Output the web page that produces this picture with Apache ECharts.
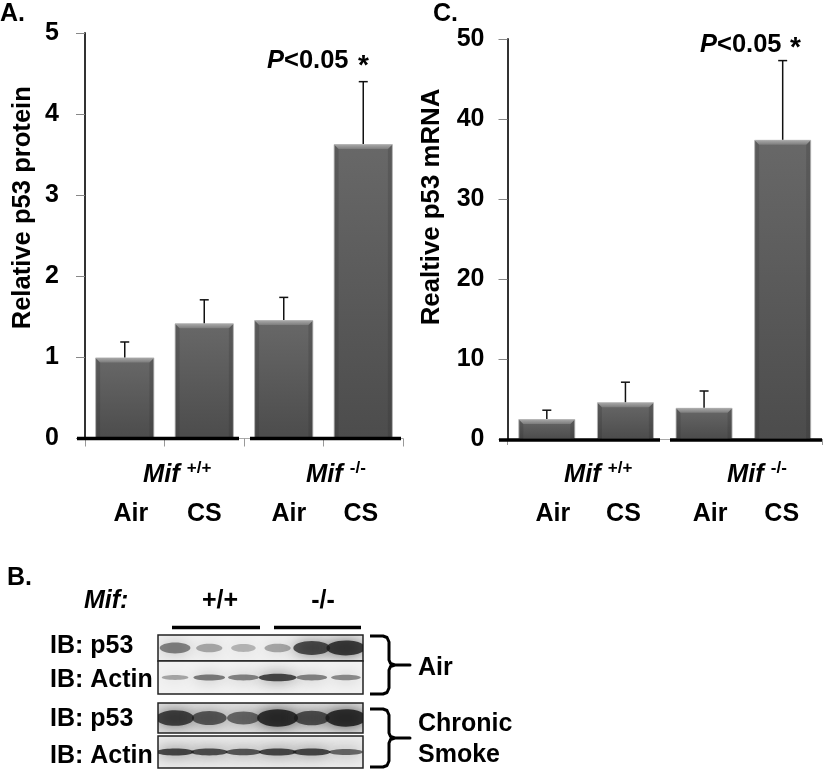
<!DOCTYPE html>
<html><head><meta charset="utf-8">
<style>html,body{margin:0;padding:0;background:#fff}#c{width:825px;height:770px}</style>
<script src="https://cdn.jsdelivr.net/npm/echarts@6/dist/echarts.min.js"></script>
</head><body><div id="c"></div>
<script>
const categories = ['Air', 'CS', 'Air', 'CS'];
const proteinMeans = [1.0, 1.42, 1.46, 3.63];
const proteinTops = [1.19, 1.71, 1.74, 4.4];
const mrnaMeans = [2.5, 4.6, 3.9, 37.4];
const mrnaTops = [3.6, 7.1, 6.0, 47.3];
const lanes = ['1', '2', '3', '4', '5', '6'];
const blotAirP53 = [0.5, 0.28, 0.2, 0.28, 0.8, 0.9];
const blotAirActin = [0.3, 0.55, 0.5, 0.85, 0.5, 0.45];
const blotSmokeP53 = [0.85, 0.7, 0.6, 1.0, 0.75, 1.0];
const blotSmokeActin = [0.85, 0.8, 0.75, 0.85, 0.85, 0.65];

const FONT = 'Liberation Sans';
const chart = echarts.init(document.getElementById('c'), null, {renderer: 'canvas'});

const labelOffsets = [[6, 0, 5, -2.5], [6, -2, 6, -1]];
function richFor(p) {
  const r = {};
  labelOffsets[p].forEach((o, i) => {
    r['a' + i] = {fontFamily: FONT, fontWeight: 'bold', fontSize: 25, color: '#000',
      padding: o >= 0 ? [0, 0, 0, 2 * o] : [0, -2 * o, 0, 0]};
  });
  return r;
}
function xAxisFor(g, p) {
  return {
    type: 'category', gridIndex: g, data: categories,
    axisLine: {lineStyle: {color: '#aaa', width: 1}},
    axisTick: p === 0
      ? {show: true, length: 8, lineStyle: {color: '#999', width: 1}}
      : {show: true, length: 6, interval: (i) => i === 0, lineStyle: {color: '#999', width: 1}},
    axisLabel: {margin: 63, interval: 0, rich: richFor(p),
      formatter: (v, i) => '{a' + i + '|' + v + '}'}
  };
}
function yAxisFor(g, max, step, name, gap, pad, size, margin) {
  return {
    type: 'value', gridIndex: g, min: 0, max: max, interval: step,
    name: name, nameLocation: 'middle', nameRotate: 90, nameGap: gap,
    nameTextStyle: {fontFamily: FONT, fontWeight: 'bold', fontSize: size, color: '#000', padding: [0, 0, 0, pad]},
    splitLine: {show: false},
    axisLine: {show: true, lineStyle: {color: '#333', width: 2}},
    axisTick: {show: true, length: 9, lineStyle: {color: '#888', width: 1}},
    axisLabel: {fontFamily: FONT, fontWeight: 'bold', fontSize: 25, color: '#000', margin: margin}
  };
}
function barSeries(g, values, widthPct) {
  return {
    type: 'bar', xAxisIndex: g, yAxisIndex: g, data: values, barWidth: widthPct, z: 2,
    itemStyle: {
      color: new echarts.graphic.LinearGradient(0, 0, 0, 1, [
        {offset: 0, color: '#686868'}, {offset: 1, color: '#4c4c4c'}]),
      borderColor: '#c4c4c4', borderWidth: 1
    }
  };
}
function bevelSeries(g, values, frac) {
  return {
    type: 'custom', xAxisIndex: g, yAxisIndex: g, z: 3, silent: true,
    data: values.map((v, i) => [i, v]),
    renderItem(params, api) {
      const p = api.coord([api.value(0), api.value(1)]);
      const base = api.coord([api.value(0), 0]);
      const w = api.size([1, 0])[0] * frac;
      const l = p[0] - w / 2 + 0.5, r = p[0] + w / 2 - 0.5, t = p[1] + 0.5, b = base[1];
      const d = 4.5;
      return {type: 'group', children: [
        {type: 'polygon', shape: {points: [[l, t], [l + d, t + d], [l + d, b], [l, b]]},
          style: {fill: 'rgba(40,40,40,0.2)'}},
        {type: 'polygon', shape: {points: [[r, t], [r - d, t + d], [r - d, b], [r, b]]},
          style: {fill: 'rgba(40,40,40,0.2)'}},
        {type: 'polygon', shape: {points: [[l, t], [r, t], [r - d, t + d], [l + d, t + d]]},
          style: {fill: new echarts.graphic.LinearGradient(0, 0, 0, 1, [
            {offset: 0, color: '#a8a8a8'}, {offset: 1, color: '#7c7c7c'}])}}
      ]};
    }
  };
}
function errorSeries(g, means, tops) {
  return {
    type: 'custom', xAxisIndex: g, yAxisIndex: g, z: 4, silent: true,
    data: means.map((v, i) => [i, v, tops[i]]),
    renderItem(params, api) {
      const a = api.coord([api.value(0), api.value(1)]);
      const c = api.coord([api.value(0), api.value(2)]);
      const st = {stroke: '#111', lineWidth: 1.5, fill: null};
      return {type: 'group', children: [
        {type: 'line', shape: {x1: a[0], y1: a[1], x2: a[0], y2: c[1]}, style: st},
        {type: 'line', shape: {x1: a[0] - 4.5, y1: c[1], x2: a[0] + 4.5, y2: c[1]}, style: st}
      ]};
    }
  };
}

const grids = [
  {left: 85, top: 33, width: 318, height: 405.5},
  {left: 507.5, top: 39, width: 314.5, height: 400}
];
const xAxes = [xAxisFor(0, 0), xAxisFor(1, 1)];
const yAxes = [
  yAxisFor(0, 5, 1, 'Relative p53 protein', 49, 56, 25.6, 26),
  yAxisFor(1, 50, 10, 'Realtive p53 mRNA', 63, 64, 25.8, 23)
];
const series = [
  barSeries(0, proteinMeans, '74.5%'), bevelSeries(0, proteinMeans, 0.745), errorSeries(0, proteinMeans, proteinTops),
  barSeries(1, mrnaMeans, '72.5%'), bevelSeries(1, mrnaMeans, 0.725), errorSeries(1, mrnaMeans, mrnaTops)
];

const blots = [
  {vals: blotAirP53, top: 635, h: 26, bg: '#f0f0f0', k: 0.95},
  {vals: blotAirActin, top: 661, h: 33, bg: '#f2f2f2', k: 0.4},
  {vals: blotSmokeP53, top: 703, h: 30, bg: '#e2e2e2', k: 0.9},
  {vals: blotSmokeActin, top: 736, h: 32, bg: '#ececec', k: 0.38}
];
blots.forEach((b, n) => {
  const g = grids.length;
  grids.push({left: 158, width: 205, top: b.top, height: b.h, show: true,
    backgroundColor: b.bg, borderColor: '#222', borderWidth: 1.5, z: 1});
  xAxes.push({type: 'category', gridIndex: g, data: lanes, show: false});
  yAxes.push({type: 'value', gridIndex: g, min: 0, max: 1, show: false});
  series.push({
    type: 'custom', xAxisIndex: g, yAxisIndex: g, clip: true, silent: true, z: 2,
    data: b.vals.map((v, i) => [i, v]),
    renderItem(params, api) {
      const s = api.value(1);
      const c = api.coord([api.value(0), 0.5]);
      const lw = api.size([1, 0])[0];
      const bh = api.size([0, 1])[1];
      const alpha = Math.min(0.85, 0.12 + 0.75 * s);
      return {type: 'ellipse',
        shape: {cx: c[0], cy: c[1], rx: lw * (0.3 + 0.3 * s), ry: bh * b.k * (0.12 + 0.2 * s)},
        style: {fill: 'rgba(25,25,25,' + alpha + ')', shadowBlur: 14,
          shadowColor: 'rgba(25,25,25,' + alpha + ')'}};
    }
  });
});

function txt(x, y, text, size, extra) {
  return {type: 'text', x: x, y: y + 1.5, z: 20, style: Object.assign({
    text: text, fontFamily: FONT, fontWeight: 'bold', fontSize: size || 25, fill: '#000',
    textVerticalAlign: 'middle', textAlign: 'left'}, extra || {})};
}
function hline(x1, x2, y, w) {
  return {type: 'line', z: 19, shape: {x1: x1, y1: y, x2: x2, y2: y},
    style: {stroke: '#000', lineWidth: w}};
}
const mifRich = {
  i: {fontFamily: FONT, fontWeight: 'bold', fontStyle: 'italic', fontSize: 25.5, fill: '#000'},
  s: {fontFamily: FONT, fontWeight: 'bold', fontSize: 17, fill: '#000', padding: [0, 0, 12, 0]}
};
function bracket(x, top, tip, bottom) {
  const m = x + 19;
  const pts = [[x, top], [m - 6, top], [m - 2, top + 1.5], [m, top + 6], [m, tip - 5], [m + 1.5, tip - 1.5], [m + 6, tip],
    [x + 40, tip], [m + 6, tip], [m + 1.5, tip + 1.5], [m, tip + 5], [m, bottom - 6], [m - 2, bottom - 1.5], [m - 6, bottom], [x, bottom]];
  return {type: 'polyline', z: 19, shape: {points: pts},
    style: {stroke: '#000', lineWidth: 3, fill: null, lineJoin: 'round'}};
}
const pRich = {
  i: {fontFamily: FONT, fontWeight: 'bold', fontStyle: 'italic', fontSize: 25.5},
  n: {fontFamily: FONT, fontWeight: 'bold', fontSize: 25.5}
};
const elements = [
  txt(0, 13, 'A.', 25), txt(433, 13, 'C.', 25), txt(7, 577, 'B.', 25),
  txt(267, 59, '{i|P}{n|<0.05}', 25, {rich: pRich}),
  txt(358, 65, '*', 28),
  txt(700, 43, '{i|P}{n|<0.05}', 25, {rich: pRich}),
  txt(790, 47, '*', 28),
  hline(77, 239, 438.5, 3.5), hline(250, 401, 438.5, 3.5),
  hline(499, 660, 440, 3.5), hline(670, 822, 440, 3.5),
  txt(143, 473, '{i|Mif} {s|+/+}', 25, {rich: mifRich}),
  txt(306, 473, '{i|Mif} {s|-/-}', 25, {rich: mifRich}),
  txt(564, 473, '{i|Mif} {s|+/+}', 25, {rich: mifRich}),
  txt(727, 473, '{i|Mif} {s|-/-}', 25, {rich: mifRich}),
  txt(84, 600, 'Mif:', 25, {fontStyle: 'italic'}),
  txt(220, 600, '+/+', 25, {textAlign: 'center'}),
  txt(323, 600, '-/-', 25, {textAlign: 'center'}),
  hline(172, 260, 627.5, 3.5), hline(274, 361, 627.5, 3.5),
  txt(50, 645, 'IB: p53', 25), txt(50, 679, 'IB: Actin', 25),
  txt(50, 718, 'IB: p53', 25), txt(50, 755, 'IB: Actin', 25),
  bracket(370, 636, 665, 694), bracket(370, 709, 738, 767),
  txt(418, 667, 'Air', 25), txt(418, 723, 'Chronic', 25), txt(418, 754, 'Smoke', 25)
];

chart.setOption({
  animation: false,
  backgroundColor: '#fff',
  textStyle: {fontFamily: FONT},
  grid: grids, xAxis: xAxes, yAxis: yAxes, series: series,
  graphic: {elements: elements}
});
</script></body></html>
